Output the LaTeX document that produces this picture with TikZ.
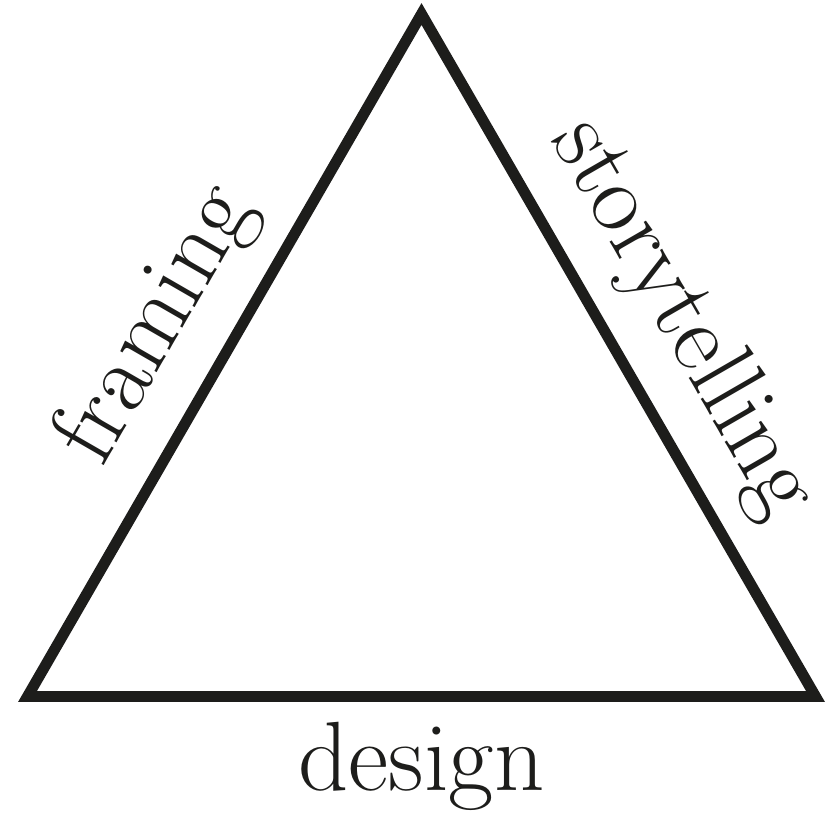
\documentclass[tikz,border=0pt]{standalone}
\usepackage{tikz}
\usetikzlibrary{positioning}
\definecolor{ink}{HTML}{1D1D1B}

\begin{document}
\begin{tikzpicture}[
    x=0.01cm, y=0.01cm, line join=miter,
    edge/.style ={draw=ink, line width=3.1pt},
    side/.style ={font=\fontsize{28}{32}\selectfont, text=ink, anchor=base, inner sep=0pt},
    slab/.style ={side, sloped, yshift=14pt}
]
\useasboundingbox (0,0) rectangle (828,818);

% corners
\coordinate (bl)  at (27.5, 121.5);
\coordinate (br)  at (815.5, 121.5);
\coordinate (top) at (421.5, 804);

% triangle with its three labels
\draw[edge] (bl) -- node[side, yshift=-26.6pt] (design) {design}
  (br) -- node[slab, pos=0.5] (story) {storytelling}
  (top) -- node[slab, pos=0.51] (frame) {framing} cycle;
\end{tikzpicture}
\end{document}
